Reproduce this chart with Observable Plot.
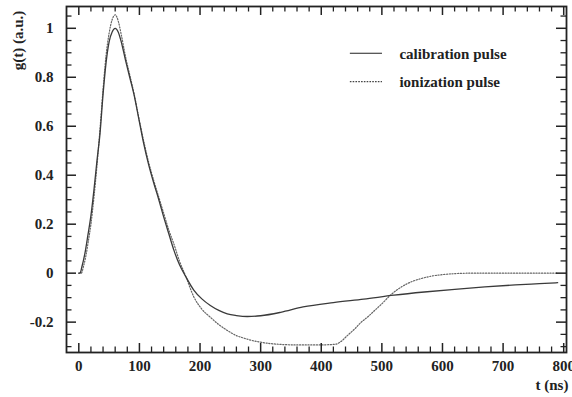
<!DOCTYPE html>
<html><head><meta charset="utf-8">
<script src="https://cdn.jsdelivr.net/npm/d3@7"></script>
<script src="https://cdn.jsdelivr.net/npm/@observablehq/plot@0.6"></script>
<style>body{margin:0;background:#fff}</style>
</head><body><div id="chart"></div>
<script>
const calT = [0, 2, 5, 10, 15, 20, 25, 30, 35, 40, 45, 50, 55, 60, 65, 70, 77, 84, 91, 99, 107, 115, 124, 132, 140, 148, 157, 166, 176, 190, 203, 217, 231, 245, 260, 278, 300, 333, 370, 420, 470, 520, 570, 620, 670, 720, 760, 790];
const calV = [0, 0, 0.025, 0.08, 0.155, 0.235, 0.34, 0.46, 0.57, 0.73, 0.86, 0.945, 0.985, 1.0, 0.985, 0.945, 0.87, 0.80, 0.73, 0.63, 0.53, 0.445, 0.365, 0.30, 0.23, 0.165, 0.093, 0.035, -0.012, -0.07, -0.105, -0.132, -0.152, -0.166, -0.173, -0.177, -0.174, -0.16, -0.138, -0.12, -0.106, -0.09, -0.077, -0.066, -0.056, -0.048, -0.043, -0.039];
const ionT = [0, 4, 8, 12, 16, 20, 25, 30, 35, 40, 45, 50, 55, 60, 65, 70, 77, 84, 91, 99, 107, 115, 124, 132, 140, 148, 157, 166, 176, 190, 203, 217, 231, 245, 260, 272, 286, 300, 327, 360, 400, 424, 432, 443, 455, 466, 476, 490, 500, 514, 530, 547, 565, 580, 600, 620, 650, 700, 750, 790];
const ionV = [0, 0, 0.03, 0.075, 0.135, 0.2, 0.31, 0.44, 0.59, 0.75, 0.89, 0.98, 1.035, 1.055, 1.03, 0.975, 0.885, 0.81, 0.735, 0.635, 0.54, 0.455, 0.375, 0.31, 0.245, 0.18, 0.118, 0.05, -0.01, -0.098, -0.147, -0.18, -0.21, -0.234, -0.255, -0.265, -0.275, -0.282, -0.29, -0.293, -0.293, -0.29, -0.28, -0.255, -0.228, -0.2, -0.18, -0.148, -0.125, -0.09, -0.06, -0.037, -0.022, -0.013, -0.006, -0.002, 0, 0, 0, 0];
const seriesNames = ["calibration pulse", "ionization pulse"];
const xTicks = [0, 100, 200, 300, 400, 500, 600, 700, 800];
const xTickLabels = ["0", "100", "200", "300", "400", "500", "600", "700", "800"];
const yTicks = [-0.2, 0, 0.2, 0.4, 0.6, 0.8, 1];
const yTickLabels = ["-0.2", "0", "0.2", "0.4", "0.6", "0.8", "1"];
const xTitle = "t (ns)";
const yTitle = "g(t) (a.u.)";

const W = 572, H = 397, mt = 6, mb = 45, ml = 66, mr = 6;
const fw = W - ml - mr, fh = H - mt - mb;
const xMinor = d3.range(20, 800, 20).filter(v => v % 100 !== 0);
const yMinor = d3.range(-30, 106, 5).map(v => v / 100).filter(v => Math.abs(Math.round(v * 100) % 20) !== 0);

const cal = calT.map((t, i) => ({t, v: calV[i]}));
const ion = ionT.map((t, i) => ({t, v: ionV[i]}));

const legX1 = 448, legX2 = 501, legTextX = 529, legY = [0.898, 0.782];
const ink = "#222";
const fontFam = "'Liberation Serif', 'DejaVu Serif', serif";
const font = {fontFamily: fontFam, fontSize: 15, fontWeight: "bold", fill: ink};

const chart = Plot.plot({
  width: W, height: H,
  marginTop: mt, marginBottom: mb, marginLeft: ml, marginRight: mr,
  x: {domain: [-20.3, 804.6], axis: null},
  y: {domain: [-0.324, 1.089], axis: null},
  marks: [
    Plot.line(ion, {x: "t", y: "v", stroke: "#666", strokeWidth: 1.2, strokeDasharray: "1.2,1.6", curve: "monotone-x"}),
    Plot.line(cal, {x: "t", y: "v", stroke: "#3a3a3a", strokeWidth: 1.3, curve: "monotone-x"}),
    Plot.tickX(xTicks, {x: d => d, stroke: ink, strokeWidth: 1.5, insetTop: fh - 9}),
    Plot.tickX(xMinor, {x: d => d, stroke: ink, strokeWidth: 1.3, insetTop: fh - 5.5}),
    Plot.tickX(xTicks, {x: d => d, stroke: ink, strokeWidth: 1.5, insetBottom: fh - 9}),
    Plot.tickX(xMinor, {x: d => d, stroke: ink, strokeWidth: 1.3, insetBottom: fh - 5.5}),
    Plot.tickY(yTicks, {y: d => d, stroke: ink, strokeWidth: 1.5, insetRight: fw - 10}),
    Plot.tickY(yMinor, {y: d => d, stroke: ink, strokeWidth: 1.3, insetRight: fw - 5.5}),
    Plot.tickY(yTicks, {y: d => d, stroke: ink, strokeWidth: 1.5, insetLeft: fw - 10}),
    Plot.tickY(yMinor, {y: d => d, stroke: ink, strokeWidth: 1.3, insetLeft: fw - 5.5}),
    Plot.frame({stroke: ink, strokeWidth: 1.8}),
    Plot.text(xTicks, {x: d => d, text: (d, i) => xTickLabels[i], frameAnchor: "bottom", dy: 14, lineAnchor: "middle", ...font}),
    Plot.text(yTicks, {y: d => d, text: (d, i) => yTickLabels[i], frameAnchor: "left", dx: -13, textAnchor: "end", lineAnchor: "middle", ...font}),
    Plot.text([xTitle], {text: d => d, frameAnchor: "bottom-right", dx: -31, dy: 33, textAnchor: "start", lineAnchor: "middle", ...font}),
    Plot.text([yTitle], {text: d => d, frameAnchor: "top-left", dx: -48, dy: 34, rotate: -90, textAnchor: "middle", lineAnchor: "middle", ...font}),
    Plot.ruleY([legY[0]], {y: d => d, x1: legX1, x2: legX2, stroke: "#222", strokeWidth: 1.2}),
    Plot.ruleY([legY[1]], {y: d => d, x1: legX1, x2: legX2, stroke: "#444", strokeWidth: 1.1, strokeDasharray: "1.6,1.2"}),
    Plot.text(seriesNames, {x: legTextX, y: (d, i) => legY[i], text: d => d, textAnchor: "start", lineAnchor: "middle", dy: 1, ...font})
  ]
});
chart.style.background = "#fff";
chart.style.overflow = "visible";
d3.select(chart).selectAll("text, g[aria-label='text']")
  .style("font-family", fontFam)
  .style("font-size", "15px")
  .style("font-weight", "bold");
document.getElementById("chart").appendChild(chart);
</script>
</body></html>
